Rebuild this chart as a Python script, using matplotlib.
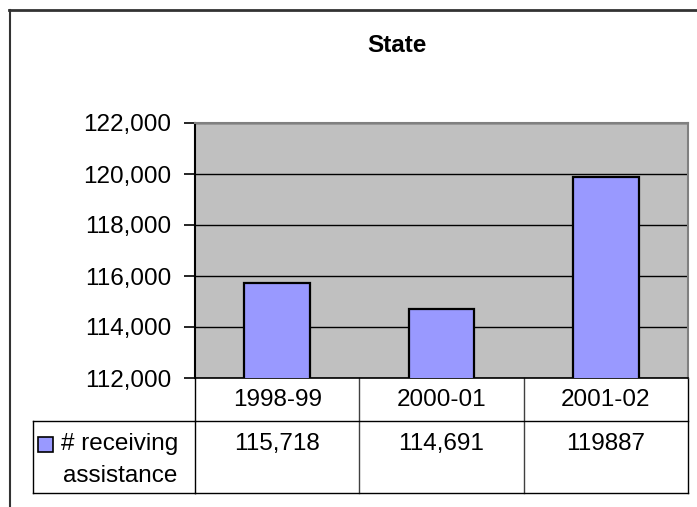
#!/usr/bin/env python3
"""Excel-style column chart with data table: # receiving assistance, State."""
import matplotlib
matplotlib.use("Agg")
import matplotlib.pyplot as plt
from matplotlib.lines import Line2D
from matplotlib.patches import Rectangle
from matplotlib.ticker import FuncFormatter

PERIODS = ["1998-99", "2000-01", "2001-02"]
RECEIVING = [115718, 114691, 119887]
TABLE_TEXT = ["115,718", "114,691", "119887"]
SERIES_NAME = ["# receiving", "assistance"]
TITLE = "State"
Y_TICKS = [112000, 114000, 116000, 118000, 120000, 122000]

W, H = 697, 507
BAR_COLOR = "#9999FF"
PLOT_BG = "#C0C0C0"
FS = 17.5

plt.rcParams["font.family"] = ["Liberation Sans", "DejaVu Sans"]


def fx(px):
    return px / W


def fy(py):
    return 1 - py / H


def main():
    fig = plt.figure(figsize=(W / 100, H / 100), dpi=100)
    left, right, top, bottom = 195, 688, 123, 378
    ax = fig.add_axes([fx(left), fy(bottom), fx(right - left), (bottom - top) / H])
    ax.set_facecolor(PLOT_BG)

    xs = list(range(len(PERIODS)))
    ax.bar(xs, RECEIVING, width=0.4, color=BAR_COLOR, edgecolor="black",
           linewidth=1.6, zorder=3)
    ax.set_xlim(-0.5, len(PERIODS) - 0.5)
    ax.set_ylim(Y_TICKS[0], Y_TICKS[-1])
    ax.set_yticks(Y_TICKS)
    ax.yaxis.set_major_formatter(FuncFormatter(lambda v, p: f"{int(v):,}"))
    ax.tick_params(axis="y", length=8, width=1.2, pad=9, labelsize=FS)
    ax.set_xticks([])
    ax.grid(axis="y", color="black", linewidth=1, zorder=1)
    ax.set_axisbelow(True)
    for side in ("top", "right"):
        ax.spines[side].set_color("#808080")
        ax.spines[side].set_linewidth(1.5)
    ax.spines["left"].set_linewidth(1.5)
    ax.spines["bottom"].set_linewidth(1.2)

    # data table below the plot
    hgt = bottom - top
    row1 = -(421 - bottom) / hgt
    row2 = -(493 - bottom) / hgt
    xt = ax.get_xaxis_transform()
    for b in [i - 0.5 for i in range(len(PERIODS) + 1)]:
        col = "black" if b in (-0.5, len(PERIODS) - 0.5) else "#404040"
        ax.add_line(Line2D([b, b], [0, row2], color=col, linewidth=1,
                           clip_on=False, transform=xt))
    lkw = dict(color="black", linewidth=1, clip_on=False, transform=xt)
    ax.add_line(Line2D([-0.5, len(PERIODS) - 0.5], [row1, row1], **lkw))
    ax.add_line(Line2D([-0.5, len(PERIODS) - 0.5], [row2, row2], **lkw))
    tl = (33 - left) / (right - left)
    akw = dict(color="black", linewidth=1, clip_on=False, transform=ax.transAxes)
    ax.add_line(Line2D([tl, 0], [row1, row1], **akw))
    ax.add_line(Line2D([tl, 0], [row2, row2], **akw))
    ax.add_line(Line2D([tl, tl], [row1, row2], **akw))

    val_y = -(444 - bottom) / hgt
    for i, (p, t) in enumerate(zip(PERIODS, TABLE_TEXT)):
        ax.text(i, row1 / 2, p, transform=xt, ha="center", va="center",
                fontsize=FS, clip_on=False)
        ax.text(i, val_y, t, transform=xt, ha="center", va="center",
                fontsize=FS, clip_on=False)

    for line, py in zip(SERIES_NAME, (444, 476)):
        fig.text(fx(120), fy(py), line, ha="center", va="center", fontsize=FS)
    fig.add_artist(Rectangle((fx(38), fy(452)), fx(15), 15 / H,
                             facecolor=BAR_COLOR, edgecolor="black",
                             linewidth=1.2, transform=fig.transFigure))

    fig.text(fx(397), fy(46), TITLE, ha="center", va="center",
             fontsize=FS, fontweight="bold")

    # chart area frame (cropped on right/bottom)
    fig.add_artist(Line2D([fx(9), 1], [fy(10), fy(10)], color="#333333",
                          linewidth=2, transform=fig.transFigure))
    fig.add_artist(Line2D([fx(10), fx(10)], [fy(10), 0], color="#333333",
                          linewidth=1.5, transform=fig.transFigure))

    fig.savefig("out.png", dpi=100)


if __name__ == "__main__":
    main()
